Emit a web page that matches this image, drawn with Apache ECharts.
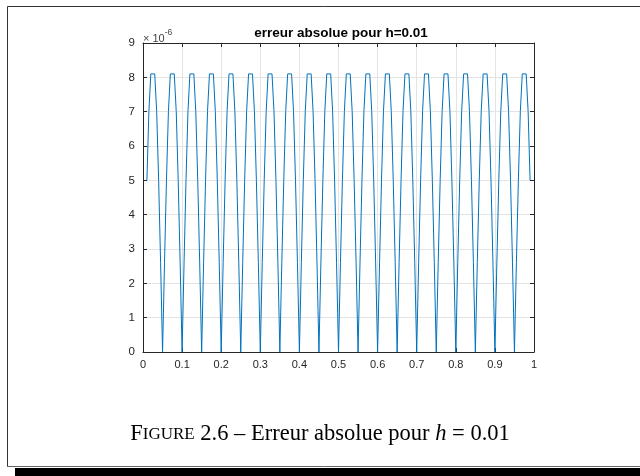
<!DOCTYPE html>
<html>
<head>
<meta charset="utf-8">
<script src="https://cdn.jsdelivr.net/npm/echarts@6/dist/echarts.min.js"></script>
<style>html,body{margin:0;padding:0;background:#fff}#c{width:640px;height:476px}</style>
</head>
<body>
<div id="c"></div>
<script>
// x positions (grid points of the plotted error curve)
const xValues = [
  0.01,0.015,0.02,0.025,0.03,0.035,0.04,0.045,0.05,
  0.055,0.06,0.065,0.07,0.075,0.08,0.085,0.09,0.095,0.1,
  0.105,0.11,0.115,0.12,0.125,0.13,0.135,0.14,0.145,0.15,
  0.155,0.16,0.165,0.17,0.175,0.18,0.185,0.19,0.195,0.2,
  0.205,0.21,0.215,0.22,0.225,0.23,0.235,0.24,0.245,0.25,
  0.255,0.26,0.265,0.27,0.275,0.28,0.285,0.29,0.295,0.3,
  0.305,0.31,0.315,0.32,0.325,0.33,0.335,0.34,0.345,0.35,
  0.355,0.36,0.365,0.37,0.375,0.38,0.385,0.39,0.395,0.4,
  0.405,0.41,0.415,0.42,0.425,0.43,0.435,0.44,0.445,0.45,
  0.455,0.46,0.465,0.47,0.475,0.48,0.485,0.49,0.495,0.5,
  0.505,0.51,0.515,0.52,0.525,0.53,0.535,0.54,0.545,0.55,
  0.555,0.56,0.565,0.57,0.575,0.58,0.585,0.59,0.595,0.6,
  0.605,0.61,0.615,0.62,0.625,0.63,0.635,0.64,0.645,0.65,
  0.655,0.66,0.665,0.67,0.675,0.68,0.685,0.69,0.695,0.7,
  0.705,0.71,0.715,0.72,0.725,0.73,0.735,0.74,0.745,0.75,
  0.755,0.76,0.765,0.77,0.775,0.78,0.785,0.79,0.795,0.8,
  0.805,0.81,0.815,0.82,0.825,0.83,0.835,0.84,0.845,0.85,
  0.855,0.86,0.865,0.87,0.875,0.88,0.885,0.89,0.895,0.9,
  0.905,0.91,0.915,0.92,0.925,0.93,0.935,0.94,0.945,0.95,
  0.955,0.96,0.965,0.97,0.975,0.98,0.985,0.99
];
// absolute error, in units of 1e-6
const absErrorE6 = [
  5.0,7.0,8.1,8.1,8.1,7.0,5.0,2.6,0,
  2.6,5.0,7.0,8.1,8.1,8.1,7.0,5.0,2.6,0,
  2.6,5.0,7.0,8.1,8.1,8.1,7.0,5.0,2.6,0,
  2.6,5.0,7.0,8.1,8.1,8.1,7.0,5.0,2.6,0,
  2.6,5.0,7.0,8.1,8.1,8.1,7.0,5.0,2.6,0,
  2.6,5.0,7.0,8.1,8.1,8.1,7.0,5.0,2.6,0,
  2.6,5.0,7.0,8.1,8.1,8.1,7.0,5.0,2.6,0,
  2.6,5.0,7.0,8.1,8.1,8.1,7.0,5.0,2.6,0,
  2.6,5.0,7.0,8.1,8.1,8.1,7.0,5.0,2.6,0,
  2.6,5.0,7.0,8.1,8.1,8.1,7.0,5.0,2.6,0,
  2.6,5.0,7.0,8.1,8.1,8.1,7.0,5.0,2.6,0,
  2.6,5.0,7.0,8.1,8.1,8.1,7.0,5.0,2.6,0,
  2.6,5.0,7.0,8.1,8.1,8.1,7.0,5.0,2.6,0,
  2.6,5.0,7.0,8.1,8.1,8.1,7.0,5.0,2.6,0,
  2.6,5.0,7.0,8.1,8.1,8.1,7.0,5.0,2.6,0,
  2.6,5.0,7.0,8.1,8.1,8.1,7.0,5.0,2.6,0,
  2.6,5.0,7.0,8.1,8.1,8.1,7.0,5.0,2.6,0,
  2.6,5.0,7.0,8.1,8.1,8.1,7.0,5.0,2.6,0,
  2.6,5.0,7.0,8.1,8.1,8.1,7.0,5.0,2.6,0,
  2.6,5.0,7.0,8.1,8.1,8.1,7.0,5.0
];
const xTicks = {min: 0, max: 1, interval: 0.1};
const yTicks = {min: 0, max: 9, interval: 1};
const titleText = 'erreur absolue pour h=0.01';

const chart = echarts.init(document.getElementById('c'), null, {renderer: 'canvas'});
const axisCol = '#262626';
const gridCol = '#e3e3e3';
const font = 'Liberation Sans, Arial, Helvetica, sans-serif';
const serif = 'Liberation Serif, DejaVu Serif, serif';
const fmtX = v => (Math.abs(v) < 1e-9 ? '0' : (Math.abs(v - 1) < 1e-9 ? '1' : String(+v.toFixed(1))));

const option = {
  animation: false,
  backgroundColor: '#fff',
  title: {
    text: titleText, left: 336, top: 21, textAlign: 'center',
    textStyle: {fontFamily: font, fontSize: 13.5, fontWeight: 'bold', color: '#000'}
  },
  grid: {left: 143, right: 106, top: 43, bottom: 124, containLabel: false},
  xAxis: [{
    type: 'value', min: xTicks.min, max: xTicks.max, interval: xTicks.interval,
    position: 'bottom',
    axisLine: {show: true, onZero: false, lineStyle: {color: axisCol, width: 1}},
    axisTick: {show: true, inside: true, length: 4, lineStyle: {color: axisCol}},
    axisLabel: {show: true, margin: 7, color: axisCol, fontFamily: font, fontSize: 11, formatter: fmtX},
    splitLine: {show: true, lineStyle: {color: gridCol, width: 1}}
  }, {
    type: 'value', min: xTicks.min, max: xTicks.max, interval: xTicks.interval,
    position: 'top',
    axisLine: {show: true, onZero: false, lineStyle: {color: axisCol, width: 1}},
    axisTick: {show: true, inside: true, length: 4, lineStyle: {color: axisCol}},
    axisLabel: {show: false}, splitLine: {show: false}
  }],
  yAxis: [{
    type: 'value', min: yTicks.min, max: yTicks.max, interval: yTicks.interval,
    position: 'left',
    axisLine: {show: true, onZero: false, lineStyle: {color: axisCol, width: 1}},
    axisTick: {show: true, inside: true, length: 4, lineStyle: {color: axisCol}},
    axisLabel: {show: true, margin: 8, color: axisCol, fontFamily: font, fontSize: 11.5},
    splitLine: {show: true, lineStyle: {color: gridCol, width: 1}}
  }, {
    type: 'value', min: yTicks.min, max: yTicks.max, interval: yTicks.interval,
    position: 'right',
    axisLine: {show: true, onZero: false, lineStyle: {color: axisCol, width: 1}},
    axisTick: {show: true, inside: true, length: 4, lineStyle: {color: axisCol}},
    axisLabel: {show: false}, splitLine: {show: false}
  }],
  series: [{
    type: 'line',
    xAxisIndex: 0, yAxisIndex: 0,
    data: xValues.map((x, i) => [x, absErrorE6[i]]),
    showSymbol: false, symbol: 'none',
    lineStyle: {color: '#0072BD', width: 1},
    z: 3
  }],
  graphic: [
    // page frame with bottom shadow
    {type: 'rect', shape: {x: 15, y: 468, width: 625, height: 8}, style: {fill: '#000'}, z: 1},
    {type: 'polyline', shape: {points: [[7.5, 466.5], [7.5, 6.5], [640, 6.5]]},
     style: {stroke: '#333', lineWidth: 1, fill: null}, z: 1},
    {type: 'line', shape: {x1: 7, y1: 466.5, x2: 640, y2: 466.5}, style: {stroke: '#666', lineWidth: 1}, z: 1},
    // axis exponent
    {type: 'text', left: 143, top: 28,
     style: {
       text: '{a|\u00d7 10}{b|-6}',
       rich: {
         a: {fontFamily: font, fontSize: 11, fill: '#444', verticalAlign: 'bottom', lineHeight: 13},
         b: {fontFamily: font, fontSize: 8.5, fill: '#444', verticalAlign: 'top', padding: [0, 0, 7, 0]}
       }
     }, z: 5},
    // caption
    {type: 'text', left: 'center', top: 423,
     style: {
       text: '{big|F}{sc|IGURE}{n| 2.6 \u2013 Erreur absolue pour }{it|h}{n| = 0.01}',
       rich: {
         big: {fontFamily: serif, fontSize: 22.5, fill: '#000'},
         sc: {fontFamily: serif, fontSize: 17, fill: '#000'},
         n: {fontFamily: serif, fontSize: 22.5, fill: '#000'},
         it: {fontFamily: serif, fontSize: 22.5, fontStyle: 'italic', fill: '#000'}
       }
     }, z: 5}
  ]
};
chart.setOption(option);
</script>
</body>
</html>
